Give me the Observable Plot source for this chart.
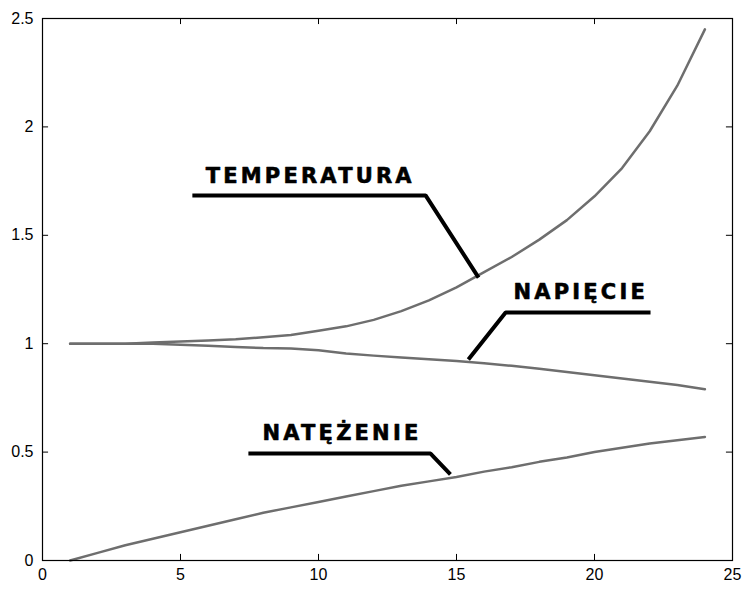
<!DOCTYPE html>
<html>
<head>
<meta charset="utf-8">
<script src="https://cdn.jsdelivr.net/npm/d3@7"></script>
<script src="https://cdn.jsdelivr.net/npm/@observablehq/plot@0.6"></script>
<style>
  html, body { margin: 0; padding: 0; background: #fff; }
  #chart svg { display: block; }
</style>
</head>
<body>
<div id="chart"></div>
<script>
// ---- data ----
const xValues = [1, 2, 3, 4, 5, 6, 7, 8, 9, 10, 11, 12, 13, 14, 15, 16, 17, 18, 19, 20, 21, 22, 23, 24];
const temperatura = [1.00, 1.00, 1.00, 1.005, 1.01, 1.015, 1.02, 1.03, 1.04, 1.06, 1.08, 1.11, 1.15, 1.20, 1.26, 1.33, 1.40, 1.48, 1.57, 1.68, 1.81, 1.98, 2.19, 2.45];
const napiecie = [1.00, 1.00, 1.00, 1.00, 0.995, 0.99, 0.985, 0.98, 0.978, 0.97, 0.955, 0.945, 0.936, 0.928, 0.92, 0.91, 0.898, 0.885, 0.87, 0.855, 0.84, 0.825, 0.81, 0.79];
const natezenie = [0.00, 0.035, 0.07, 0.10, 0.13, 0.16, 0.19, 0.22, 0.245, 0.27, 0.295, 0.32, 0.345, 0.365, 0.385, 0.41, 0.43, 0.455, 0.475, 0.50, 0.52, 0.54, 0.555, 0.57];

const xTicks = [0, 5, 10, 15, 20, 25];
const yTicks = [0, 0.5, 1, 1.5, 2, 2.5];

const labelNames = ["TEMPERATURA", "NAPIĘCIE", "NATĘŻENIE"];
const labelX = [9.70, 19.50, 10.85];
const labelY = [1.772, 1.236, 0.586];
// leader lines: [start, elbow, end] for each label
const leaderX = [[5.43, 13.88, 15.8], [22.03, 16.78, 15.43], [7.46, 14.06, 14.78]];
const leaderY = [[1.684, 1.684, 1.305], [1.144, 1.144, 0.927], [0.4935, 0.4935, 0.397]];

// ---- build tables ----
const seriesData = [
  ...xValues.map((x, i) => ({series: "TEMPERATURA", x, y: temperatura[i]})),
  ...xValues.map((x, i) => ({series: "NAPIĘCIE", x, y: napiecie[i]})),
  ...xValues.map((x, i) => ({series: "NATĘŻENIE", x, y: natezenie[i]}))
];
const leaderData = leaderX.flatMap((xs, k) => xs.map((x, j) => ({k, x, y: leaderY[k][j]})));
const labelData = labelNames.map((name, i) => ({name, x: labelX[i], y: labelY[i]}));

const tx = 0.22, ty = 0.028; // inward tick lengths in data units
const chart = Plot.plot({
  width: 745,
  height: 590,
  marginLeft: 42,
  marginRight: 13,
  marginTop: 18,
  marginBottom: 30,
  style: {fontFamily: "'Liberation Sans Narrow', 'Liberation Sans', sans-serif", fontSize: "16px", color: "#000", background: "#fff"},
  x: {domain: [0, 25]},
  y: {domain: [0, 2.5]},
  marks: [
    Plot.line(seriesData, {x: "x", y: "y", z: "series", stroke: "#6e6e6e", strokeWidth: 2.5, strokeLinejoin: "round"}),
    Plot.line(leaderData, {x: "x", y: "y", z: "k", stroke: "#000", strokeWidth: 4, strokeLinecap: "butt", strokeLinejoin: "miter"}),
    Plot.text(labelData, {x: "x", y: "y", text: "name", fontSize: 21, fontWeight: "bold", fontFamily: "'DejaVu Sans', sans-serif", fill: "#000", stroke: "#000", strokeWidth: 0.6, textAnchor: "middle"}),
    Plot.ruleX(xTicks, {x: d => d, y1: 0, y2: ty, stroke: "#000", strokeWidth: 1}),
    Plot.ruleX(xTicks, {x: d => d, y1: 2.5 - ty, y2: 2.5, stroke: "#000", strokeWidth: 1}),
    Plot.ruleY(yTicks, {y: d => d, x1: 0, x2: tx, stroke: "#000", strokeWidth: 1}),
    Plot.ruleY(yTicks, {y: d => d, x1: 25 - tx, x2: 25, stroke: "#000", strokeWidth: 1}),
    Plot.axisX({ticks: xTicks, tickSize: 0, tickPadding: 8, tickFormat: d => String(d), label: null, fontSize: 16}),
    Plot.axisY({ticks: yTicks, tickSize: 0, tickPadding: 9, tickFormat: d => String(d), label: null, fontSize: 16}),
    Plot.frame({stroke: "#000", strokeWidth: 1.2})
  ]
});
d3.select(chart).selectAll("g[aria-label='text'] text").style("letter-spacing", "3.2px");
document.getElementById("chart").appendChild(chart);
</script>
</body>
</html>
